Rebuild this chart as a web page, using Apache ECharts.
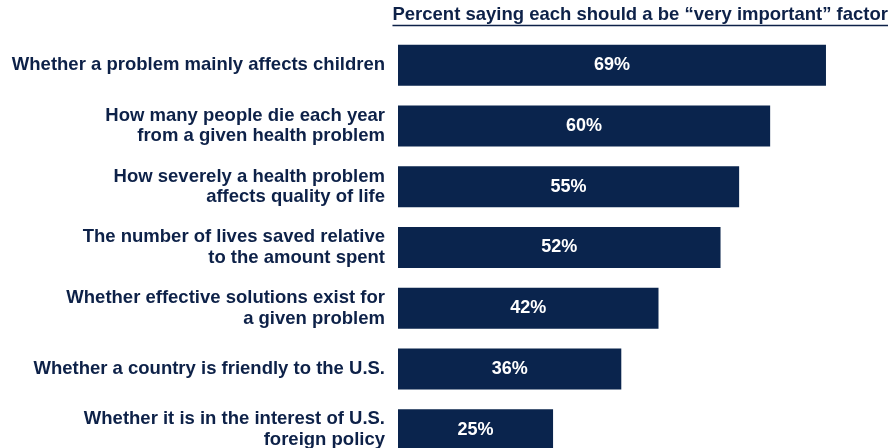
<!DOCTYPE html>
<html>
<head>
<meta charset="utf-8">
<script src="https://cdn.jsdelivr.net/npm/echarts@6/dist/echarts.min.js"></script>
<style>html,body{margin:0;padding:0;background:#fff;overflow:hidden;}#c{width:890px;height:460px;}</style>
</head>
<body>
<div id="c"></div>
<script>
const categories = [
  "Whether a problem mainly affects children",
  "How many people die each year\nfrom a given health problem",
  "How severely a health problem\naffects quality of life",
  "The number of lives saved relative\nto the amount spent",
  "Whether effective solutions exist for\na given problem",
  "Whether a country is friendly to the U.S.",
  "Whether it is in the interest of U.S.\nforeign policy"
];
const values = [69, 60, 55, 52, 42, 36, 25];
const titleText = "Percent saying each should a be \u201cvery important\u201d factor";

const FONT = 'Liberation Sans, Arial, sans-serif';
const navy = '#0A244D';
const textColor = '#0d2148';
const titleSize = 18.5;

// measure title width for underline
const cv = document.createElement('canvas').getContext('2d');
cv.font = 'bold ' + titleSize + 'px ' + FONT;
const titleW = cv.measureText(titleText).width;
const titleRight = 888;

const chart = echarts.init(document.getElementById('c'));
chart.setOption({
  animation: false,
  grid: { left: 398, top: 35, right: 2, bottom: 0, containLabel: false },
  xAxis: { type: 'value', min: 0, max: 79, show: false },
  yAxis: {
    type: 'category',
    data: categories,
    inverse: true,
    axisLine: { show: false },
    axisTick: { show: false },
    axisLabel: {
      margin: 13,
      align: 'right',
      fontFamily: FONT,
      fontWeight: 'bold',
      fontSize: 18.5,
      lineHeight: 20.5,
      color: textColor
    }
  },
  series: [{
    type: 'bar',
    data: values,
    barWidth: 41,
    itemStyle: { color: navy },
    label: {
      show: true,
      position: 'inside',
      formatter: '{c}%',
      color: '#fff',
      fontFamily: FONT,
      fontWeight: 'bold',
      fontSize: 18
    }
  }],
  graphic: [{
    type: 'text',
    x: titleRight,
    y: 24,
    style: {
      text: titleText,
      align: 'right',
      verticalAlign: 'bottom',
      font: 'bold ' + titleSize + 'px ' + FONT,
      fill: textColor
    }
  }, {
    type: 'line',
    shape: { x1: titleRight - titleW, y1: 25.5, x2: titleRight, y2: 25.5 },
    style: { stroke: textColor, lineWidth: 1.3 }
  }]
});
</script>
</body>
</html>
